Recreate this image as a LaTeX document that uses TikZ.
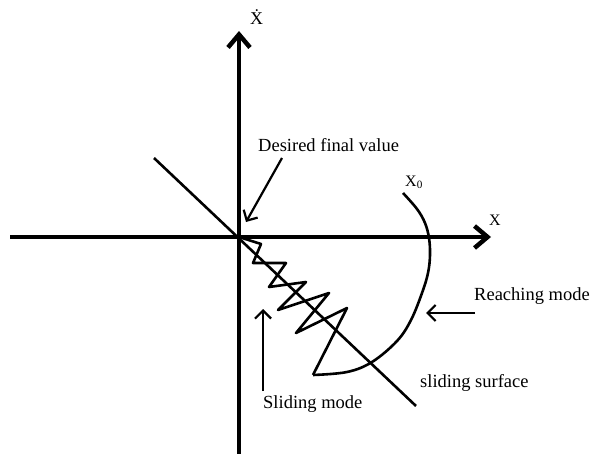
\documentclass[tikz,border=0pt]{standalone}
\usepackage{fontspec}
\setmainfont{Liberation Serif}
\usetikzlibrary{arrows.meta}
\begin{document}
\begin{tikzpicture}[x=1pt,y=-1pt,
  axis/.style={line width=4.5pt, -{Straight Barb[length=13pt,width=22pt]}},
  curve/.style={line width=2.6pt, line join=round},
  pointer/.style={line width=2.2pt, -{Straight Barb[length=8pt,width=16pt]}},
  lbl/.style={font=\fontsize{18.5}{21}\selectfont, inner sep=0pt, anchor=base west}]
\useasboundingbox (0,0) rectangle (593,454);
% axes
\coordinate (O) at (239,237);
\coordinate (ybot) at (239,454);
\coordinate (ytop) at (239,31);
\coordinate (xleft) at (10,237);
\coordinate (xright) at (491,237);
\draw[axis] (ybot) -- (ytop);
\draw[axis] (xleft) -- (xright);
% sliding surface line
\coordinate (s1) at (154,158);
\coordinate (s2) at (416,406);
\draw[curve] (s1) -- (s2);
% zigzag (sliding mode)
\coordinate (zend) at (313,375);
\draw[curve] (O) -- (261,244) -- (253,263) -- (286,263) -- (269,287) -- (306,282)
  -- (278,310) -- (329,293) -- (296,333) -- (347,308) -- (zend);
% reaching arc
\draw[curve] plot[smooth, tension=0.6] coordinates {(zend) (347,372) (372,362) (397,341)
  (411,320) (422,293) (428,273) (430,255) (429,238) (425,223) (417,209) (403,193)};
% labels
\node[lbl, font=\fontsize{18}{20}\selectfont] (xdot) at (250,25) {\.{X}};
\node[lbl, font=\fontsize{16}{18}\selectfont] (xlab) at (489,225) {X};
\node[lbl, font=\fontsize{16}{18}\selectfont] (x0) at (405,186) {X\textsubscript{0}};
\node[lbl] (desired) at (258,152) {Desired final value};
\node[lbl] (reaching) at (474,300) {Reaching mode};
\node[lbl] (surface) at (420,387) {sliding surface};
\node[lbl] (sliding) at (263,408) {Sliding mode};
% pointers
\coordinate (dstart) at (282,158);
\coordinate (dend) at (246,222);
\draw[pointer] (dstart) -- (dend);
\coordinate (rstart) at (475,313);
\coordinate (rend) at (426,313);
\draw[pointer] (rstart) -- (rend);
\coordinate (sstart) at (263,391);
\coordinate (send) at (263,309);
\draw[pointer] (sstart) -- (send);
\end{tikzpicture}
\end{document}
